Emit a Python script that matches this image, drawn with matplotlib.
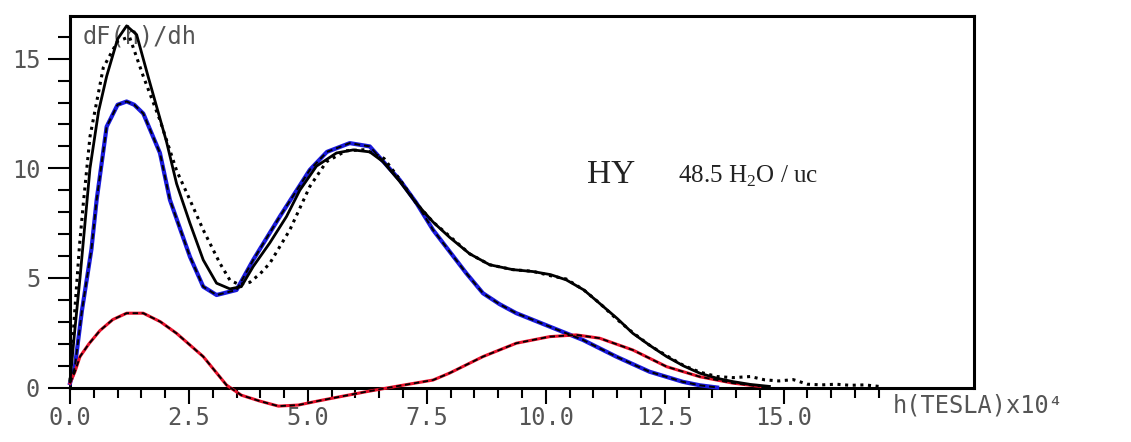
import numpy as np
import matplotlib
matplotlib.use("Agg")
import matplotlib.pyplot as plt
from matplotlib.ticker import MultipleLocator, FixedLocator

plt.rcParams['mathtext.fontset'] = 'custom'
plt.rcParams['mathtext.rm'] = 'Liberation Serif'

# total distribution, fitted (solid black)
h_total = [0.0, 0.1, 0.21, 0.42, 0.6, 0.77, 1.0, 1.19, 1.4, 1.64, 2.03, 2.24, 2.52, 2.8, 3.08,
           3.36, 3.6, 3.85, 4.2, 4.55, 4.83, 5.18, 5.6, 5.95, 6.3, 6.58, 6.93, 7.28, 7.63, 7.98,
           8.4, 8.82, 9.3, 9.73, 10.1, 10.43, 10.8, 11.13, 11.5, 11.83, 12.2, 12.54, 12.9, 13.24,
           13.6, 13.93, 14.3, 14.7]
d_total = [0.3, 2.6, 5.0, 10.0, 12.6, 14.2, 15.9, 16.5, 16.1, 14.2, 11.2, 9.3, 7.5, 5.82, 4.76,
           4.5, 4.6, 5.52, 6.6, 7.8, 9.0, 10.1, 10.7, 10.84, 10.75, 10.3, 9.4, 8.4, 7.55, 6.85,
           6.1, 5.6, 5.38, 5.29, 5.15, 4.91, 4.45, 3.84, 3.15, 2.47, 1.9, 1.41, 0.98, 0.65,
           0.42, 0.27, 0.14, 0.05]

# total distribution, measured (dotted)
h_meas = [0.0, 0.1, 0.2, 0.28, 0.42, 0.7, 1.0, 1.25, 1.54, 1.89, 2.24, 2.52, 2.8, 3.15, 3.36,
          3.55, 3.78, 4.0, 4.2, 4.62, 5.04, 5.39, 5.8, 6.2, 6.6, 6.93, 7.28, 7.63, 7.98, 8.4,
          8.82, 9.3, 9.73, 10.1, 10.43, 10.8, 11.13, 11.5, 11.83, 12.2, 12.54, 12.9, 13.24,
          13.6, 13.93, 14.3, 14.6, 14.9, 15.2, 15.5, 15.8, 16.1, 16.4, 16.7, 17.0]
d_meas = [0.3, 3.5, 6.5, 8.4, 11.45, 14.6, 15.8, 16.0, 14.2, 12.2, 9.9, 8.56, 7.19, 5.67, 4.9,
          4.7, 4.8, 5.2, 5.67, 7.19, 9.17, 10.3, 10.8, 10.85, 10.45, 9.5, 8.4, 7.55, 6.9, 6.1,
          5.6, 5.38, 5.3, 5.1, 4.95, 4.45, 3.85, 3.1, 2.5, 1.9, 1.45, 1.0, 0.7, 0.5, 0.45,
          0.5, 0.35, 0.3, 0.36, 0.15, 0.12, 0.15, 0.1, 0.12, 0.05]

# first component (blue)
h_comp1 = [0.0, 0.1, 0.25, 0.45, 0.56, 0.77, 1.0, 1.19, 1.35, 1.54, 1.89, 2.1, 2.52, 2.8, 3.08,
           3.5, 3.85, 4.41, 5.04, 5.4, 5.88, 6.3, 6.93, 7.28, 7.63, 7.98, 8.33, 8.68, 9.03,
           9.38, 10.08, 10.78, 11.48, 12.18, 12.88, 13.24, 13.6]
d_comp1 = [0.2, 0.9, 3.5, 6.3, 8.56, 11.9, 12.9, 13.05, 12.9, 12.5, 10.7, 8.56, 5.97, 4.6, 4.22,
           4.45, 5.82, 7.8, 9.93, 10.75, 11.15, 11.0, 9.47, 8.42, 7.19, 6.2, 5.21, 4.3, 3.8,
           3.39, 2.78, 2.17, 1.41, 0.72, 0.26, 0.1, 0.0]

# second component (red)
h_comp2 = [0.0, 0.1, 0.21, 0.4, 0.63, 0.9, 1.19, 1.54, 1.9, 2.24, 2.8, 3.29, 3.6, 3.99, 4.38,
           4.8, 5.2, 5.53, 6.23, 6.93, 7.63, 7.98, 8.68, 9.38, 10.08, 10.64, 11.13, 11.83,
           12.54, 13.24, 13.93, 14.5]
d_comp2 = [0.2, 0.7, 1.41, 2.0, 2.6, 3.1, 3.39, 3.39, 3.0, 2.47, 1.41, 0.11, -0.35, -0.62, -0.85,
           -0.8, -0.62, -0.48, -0.19, 0.08, 0.34, 0.66, 1.41, 2.02, 2.32, 2.4, 2.25, 1.71,
           0.95, 0.49, 0.2, 0.05]

x_major = [0.0, 2.5, 5.0, 7.5, 10.0, 12.5, 15.0]
x_labels = ['0.0', '2.5', '5.0', '7.5', '10.0', '12.5', '15.0']
y_major = [0, 5, 10, 15]
y_labels = ['0', '5', '10', '15']

fig = plt.figure(figsize=(11.31, 4.42), dpi=100)
ax = fig.add_axes([0.0619, 0.1233, 0.7993, 0.8405])

ax.plot(h_comp1, d_comp1, color='#1a1adc', lw=3.0, clip_on=False, zorder=3)
ax.plot(h_comp1, d_comp1, color='black', lw=1.4, ls=(0, (3, 2)), clip_on=False, zorder=4)
ax.plot(h_comp2, d_comp2, color='#e8102a', lw=2.2, clip_on=False, zorder=3)
ax.plot(h_comp2, d_comp2, color='black', lw=1.3, ls=(0, (3, 2)), clip_on=False, zorder=4)
ax.plot(h_total, d_total, color='black', lw=2.0, clip_on=False, zorder=5)
ax.plot(h_meas, d_meas, color='black', lw=2.2, ls=(0, (1, 1.5)), clip_on=False, zorder=6)

ax.set_xlim(0, 19)
ax.set_ylim(0, 16.95)

for s in ax.spines.values():
    s.set_linewidth(2.2)

mono = 'DejaVu Sans Mono'
grey = '#555555'
ax.xaxis.set_major_locator(FixedLocator(x_major))
ax.xaxis.set_minor_locator(FixedLocator(np.arange(0, 17.01, 0.5)))
ax.set_xticklabels(x_labels, family=mono, fontsize=17, color=grey)
ax.yaxis.set_major_locator(FixedLocator(y_major))
ax.yaxis.set_minor_locator(MultipleLocator(1))
ax.set_yticklabels(y_labels, family=mono, fontsize=17, color=grey)

ax.tick_params(axis='x', which='major', direction='out', length=11.5, width=1.5, pad=2)
ax.tick_params(axis='x', which='minor', direction='out', length=7, width=1.5)
ax.tick_params(axis='y', which='major', direction='out', length=15.5, width=1.5, pad=6)
ax.tick_params(axis='y', which='minor', direction='out', length=8.5, width=1.5)

ax.text(0.014, 0.925, 'dF(h)/dh', transform=ax.transAxes, family=mono,
        fontsize=17, color=grey, va='baseline', ha='left')

fig.text(893 / 1131, 1 - 412 / 442, 'h(TESLA)x10\u2074', family=mono,
         fontsize=17, color=grey, va='baseline', ha='left')

ax.text(0.572, 0.55, 'HY', transform=ax.transAxes, family='Liberation Serif',
        fontsize=24, color='#222222', va='baseline', ha='left')
ax.text(0.672, 0.55, '48.5 H$_2$O / uc', transform=ax.transAxes, family='Liberation Serif',
        fontsize=18, color='#222222', va='baseline', ha='left')

fig.savefig('out.png', dpi=100)
